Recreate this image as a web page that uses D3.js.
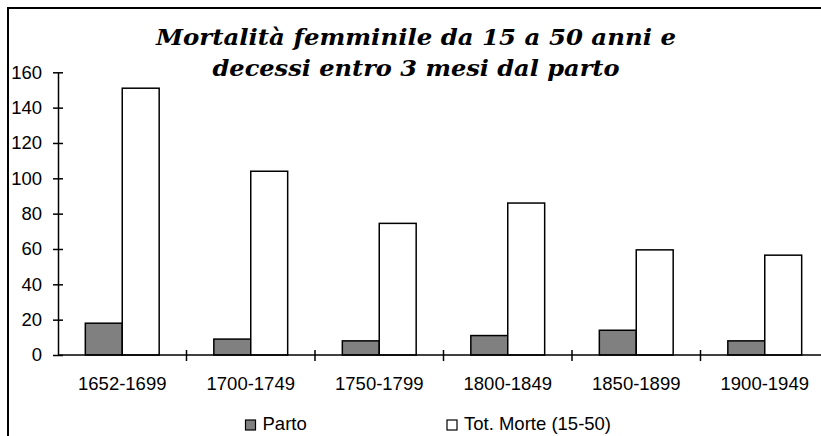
<!DOCTYPE html>
<html>
<head>
<meta charset="utf-8">
<script src="https://cdn.jsdelivr.net/npm/d3@7"></script>
<style>
  body { margin: 0; background: #fff; }
  svg { display: block; }
  .axis text { font-family: "Liberation Sans", Arial, sans-serif; font-size: 18.5px; fill: #000; }
  .axis path, .axis line { stroke: #000; stroke-width: 1.5px; }
</style>
</head>
<body>
<div id="chart"></div>
<script>
// donnees
var periodi = ["1652-1699", "1700-1749", "1750-1799", "1800-1849", "1850-1899", "1900-1949"];
var parto = [18, 9, 8, 11, 14, 8];
var totMorte = [151, 104, 74.5, 86, 59.5, 56.5];
var serie = ["Parto", "Tot. Morte (15-50)"];
var yTicks = [0, 20, 40, 60, 80, 100, 120, 140, 160];
var titolo = ["Mortalità femminile da 15 a 50 anni e", "decessi entro 3 mesi dal parto"];

var width = 821, height = 436;
var mLeft = 58, mRight = 829, mTop = 72.3, mBottom = 355;

var svg = d3.select("#chart").append("svg")
    .attr("width", width)
    .attr("height", height);

// cadre autour du graphique (coupe a droite et en bas)
svg.append("rect")
    .attr("x", 8).attr("y", 8)
    .attr("width", 840).attr("height", 450)
    .attr("fill", "none")
    .attr("stroke", "#000")
    .attr("stroke-width", 2);

var x0 = d3.scaleBand()
    .domain(periodi)
    .range([mLeft, mRight])
    .padding(0);

var x1 = d3.scaleBand()
    .domain(serie)
    .range([0, x0.bandwidth()])
    .paddingInner(0)
    .paddingOuter(0.74);

var y = d3.scaleLinear()
    .domain([0, 160])
    .range([mBottom, mTop]);

var colore = d3.scaleOrdinal()
    .domain(serie)
    .range(["#808080", "#ffffff"]);

var data = periodi.map(function(p, i) {
    return { periodo: p, valori: [
        { serie: serie[0], v: parto[i] },
        { serie: serie[1], v: totMorte[i] }
    ]};
});

// barres
var gruppi = svg.append("g").selectAll("g")
    .data(data)
    .enter().append("g")
    .attr("transform", function(d) { return "translate(" + x0(d.periodo) + ",0)"; });

gruppi.selectAll("rect")
    .data(function(d) { return d.valori; })
    .enter().append("rect")
    .attr("x", function(d) { return x1(d.serie); })
    .attr("width", x1.bandwidth())
    .attr("y", function(d) { return y(d.v); })
    .attr("height", function(d) { return mBottom - y(d.v); })
    .attr("fill", function(d) { return colore(d.serie); })
    .attr("stroke", "#000")
    .attr("stroke-width", 1.5);

// axe y
var yAxis = svg.append("g")
    .attr("class", "axis")
    .attr("transform", "translate(" + mLeft + ",0)")
    .call(d3.axisLeft(y).tickValues(yTicks).tickSizeInner(5).tickSizeOuter(0).tickPadding(11));
yAxis.selectAll(".tick line").attr("x1", 5).attr("x2", -5);

// axe x
var xTicks = periodi.map(function(p) { return x0(p); });
var xAxis = svg.append("g")
    .attr("class", "axis")
    .attr("transform", "translate(0," + mBottom + ")")
    .call(d3.axisBottom(x0).tickSize(0).tickPadding(22));
xAxis.select(".domain").attr("d", "M" + mLeft + ",0H" + mRight);
xAxis.selectAll(".sep")
    .data(xTicks.slice(1))
    .enter().append("line")
    .attr("class", "sep")
    .attr("x1", function(d) { return d; })
    .attr("x2", function(d) { return d; })
    .attr("y1", -5).attr("y2", 6);

// titre
svg.append("g").selectAll("text")
    .data(titolo)
    .enter().append("text")
    .attr("x", 416)
    .attr("y", function(d, i) { return 45 + i * 31; })
    .attr("text-anchor", "middle")
    .attr("textLength", function(d, i) { return i == 0 ? 520 : 407; })
    .attr("lengthAdjust", "spacingAndGlyphs")
    .style("font-family", "'DejaVu Serif', serif")
    .style("font-style", "italic")
    .style("font-weight", "bold")
    .style("font-size", "23px")
    .text(function(d) { return d; });

// legende
var legX = [245.5, 447];
var legenda = svg.append("g").selectAll("g")
    .data(serie)
    .enter().append("g")
    .attr("transform", function(d, i) { return "translate(" + legX[i] + ",420)"; });

legenda.append("rect")
    .attr("width", 10).attr("height", 10)
    .attr("fill", function(d) { return colore(d); })
    .attr("stroke", "#000")
    .attr("stroke-width", 1.2);

legenda.append("text")
    .attr("x", 17)
    .attr("y", 10)
    .style("font-family", "'Liberation Sans', Arial, sans-serif")
    .style("font-size", "18.5px")
    .text(function(d) { return d; });
</script>
</body>
</html>
